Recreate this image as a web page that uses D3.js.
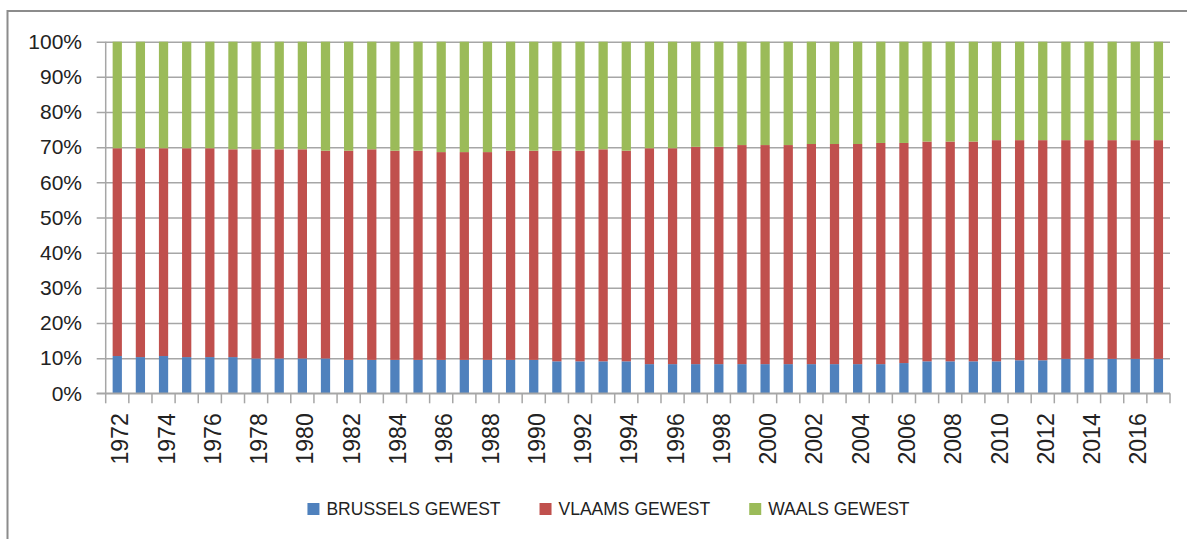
<!DOCTYPE html>
<html>
<head>
<meta charset="utf-8">
<script src="https://cdn.jsdelivr.net/npm/d3@7/dist/d3.min.js"></script>
<style>
  html, body { margin: 0; padding: 0; background: #fff; }
  svg { display: block; font-family: "Liberation Sans", Arial, sans-serif; }
</style>
</head>
<body>
<svg id="chart" width="1187" height="539"></svg>
<script>
// ---- Data (shares in %) ----
const years = [1972,1973,1974,1975,1976,1977,1978,1979,1980,1981,1982,1983,1984,1985,1986,1987,1988,1989,1990,1991,1992,1993,1994,1995,1996,1997,1998,1999,2000,2001,2002,2003,2004,2005,2006,2007,2008,2009,2010,2011,2012,2013,2014,2015,2016,2017];
const brussels = [10.6,10.3,10.6,10.3,10.3,10.3,9.9,9.9,9.9,9.9,9.5,9.5,9.5,9.5,9.5,9.5,9.5,9.5,9.5,9.1,9.1,9.1,9.1,8.3,8.3,8.3,8.3,8.3,8.3,8.3,8.3,8.3,8.3,8.3,8.6,9.1,9.1,9.1,9.1,9.4,9.4,9.8,9.8,9.8,9.8,9.8];
const vlaams = [59.1,59.4,59.1,59.4,59.4,59.1,59.5,59.5,59.5,59.1,59.5,59.9,59.5,59.5,59.1,59.1,59.1,59.5,59.5,59.9,59.9,60.3,59.9,61.4,61.4,61.8,61.8,62.3,62.3,62.3,62.6,62.6,62.6,62.9,62.6,62.5,62.5,62.5,62.9,62.6,62.6,62.2,62.2,62.2,62.2,62.2];
const waals = [30.3,30.3,30.3,30.3,30.3,30.6,30.6,30.6,30.6,31.0,31.0,30.6,31.0,31.0,31.4,31.4,31.4,31.0,31.0,31.0,31.0,30.6,31.0,30.3,30.3,29.9,29.9,29.4,29.4,29.4,29.1,29.1,29.1,28.8,28.8,28.4,28.4,28.4,28.0,28.0,28.0,28.0,28.0,28.0,28.0,28.0];
const seriesNames = ["BRUSSELS GEWEST", "VLAAMS GEWEST", "WAALS GEWEST"];
const seriesColors = ["#4F81BD", "#C0504D", "#9BBB59"];
const yTicks = [0,10,20,30,40,50,60,70,80,90,100];

// ---- Build table ----
const keys = ["b","v","w"];
const table = years.map((yr,i) => {
  const tot = brussels[i] + vlaams[i] + waals[i];
  return { year: yr, b: brussels[i]/tot*100, v: vlaams[i]/tot*100, w: waals[i]/tot*100 };
});
const stacked = d3.stack().keys(keys)(table);

const svg = d3.select("#chart");

// chart frame
svg.append("rect").attr("x", 7.5).attr("y", 11).attr("width", 1300).attr("height", 700)
  .attr("fill", "none").attr("stroke", "#8c8c8c").attr("stroke-width", 2);

const pL = 105.7, pR = 1170, pT = 41.7, pB = 393.3;
const x = d3.scaleBand().domain(years).range([pL, pR]).paddingInner(0.6).paddingOuter(0.3);
const y = d3.scaleLinear().domain([0,100]).range([pB, pT]);

// gridlines + y axis
const yAxis = d3.axisLeft(y).tickValues(yTicks).tickFormat(d => d + "%").tickSize(pR - pL + 9);
const gy = svg.append("g").attr("transform", `translate(${pR},0)`).call(yAxis);
gy.select(".domain").remove();
gy.selectAll(".tick line").attr("stroke", "#a6a6a6").attr("stroke-width", 1.5);
gy.selectAll(".tick text").attr("font-size", 21).attr("fill", "#222")
  .attr("x", -(pR - 82));

// bars
svg.append("g").selectAll("g").data(stacked).join("g")
  .attr("fill", (d,i) => seriesColors[i])
  .selectAll("rect").data(d => d).join("rect")
  .attr("x", d => x(d.data.year))
  .attr("width", x.bandwidth())
  .attr("y", d => y(d[1]))
  .attr("height", d => y(d[0]) - y(d[1]));

// y axis line
svg.append("line").attr("x1", pL).attr("x2", pL).attr("y1", pT).attr("y2", pB)
  .attr("stroke", "#a6a6a6").attr("stroke-width", 1.5);

// x axis: ticks at category boundaries
const step = x.step();
const gx = svg.append("g");
gx.append("line").attr("x1", pL - 9).attr("x2", pR).attr("y1", pB).attr("y2", pB)
  .attr("stroke", "#a6a6a6").attr("stroke-width", 1.5);
gx.selectAll("line.tk").data(d3.range(years.length + 1)).join("line").attr("class","tk")
  .attr("x1", i => pL + i*step).attr("x2", i => pL + i*step)
  .attr("y1", pB).attr("y2", pB + 10)
  .attr("stroke", "#a6a6a6").attr("stroke-width", 1.5);
gx.selectAll("text").data(years.filter((d,i) => i % 2 === 0)).join("text")
  .attr("transform", d => `translate(${x(d) + x.bandwidth()/2 + 3},${pB + 20}) rotate(-90)`)
  .attr("text-anchor", "end").attr("dy", "0.35em")
  .attr("font-size", 23).attr("fill", "#222")
  .text(d => d);

// legend
const lg = svg.append("g");
let cx = 0;
seriesNames.forEach((name,i) => {
  const g = lg.append("g");
  g.append("rect").attr("x", 0).attr("y", -12).attr("width", 12).attr("height", 12).attr("fill", seriesColors[i]);
  const t = g.append("text").attr("x", 19).attr("y", 0).attr("font-size", 17.5).attr("fill", "#222").text(name);
  const w = 19 + t.node().getComputedTextLength();
  g.attr("transform", `translate(${cx},0)`);
  cx += w + 39;
});
const totalW = cx - 39;
lg.attr("transform", `translate(${608.5 - totalW/2},515)`);
</script>
</body>
</html>
